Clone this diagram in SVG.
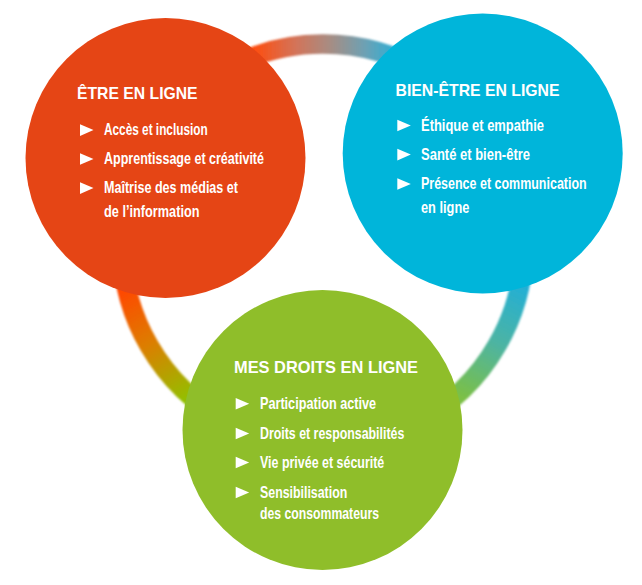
<svg xmlns="http://www.w3.org/2000/svg" width="642" height="585" viewBox="0 0 642 585">
<style>
.title{font-family:"Liberation Sans",Arial,sans-serif;font-weight:bold;font-size:17px;fill:#fff}
.item{font-family:"Liberation Sans",Arial,sans-serif;font-weight:bold;font-size:17px;fill:#fff}
.bul{fill:#fff}
</style>
<defs>
<polygon id="tri" points="0,-11 13.5,-5.2 0,0.6"/>
<linearGradient id="gTop" gradientUnits="userSpaceOnUse" x1="252" y1="0" x2="395" y2="0">
<stop offset="0" stop-color="#ff4c0c"/>
<stop offset="0.3" stop-color="#d47358"/>
<stop offset="0.55" stop-color="#a68d84"/>
<stop offset="0.8" stop-color="#6aa2b6"/>
<stop offset="1" stop-color="#2eaed4"/>
</linearGradient>
<linearGradient id="gLeft" gradientUnits="userSpaceOnUse" x1="120" y1="292" x2="185" y2="405">
<stop offset="0" stop-color="#ff4800"/>
<stop offset="0.45" stop-color="#dd7d00"/>
<stop offset="1" stop-color="#8fc300"/>
</linearGradient>
<linearGradient id="gRight" gradientUnits="userSpaceOnUse" x1="525" y1="285" x2="465" y2="400">
<stop offset="0" stop-color="#22afd6"/>
<stop offset="0.5" stop-color="#4db4a2"/>
<stop offset="1" stop-color="#7cc044"/>
</linearGradient>
<filter id="soft" x="-10%" y="-10%" width="120%" height="120%">
<feGaussianBlur stdDeviation="0.8"/>
</filter>
</defs>
<rect width="642" height="585" fill="#fff"/>
<g id="connectors" fill="none" stroke-width="19.5" filter="url(#soft)">
<path d="M149 144.5 A201 201 0 0 1 497 144.5" stroke="url(#gTop)"/>
<path d="M149 144.5 A201 201 0 0 0 323 446" stroke="url(#gLeft)"/>
<path d="M497 144.5 A201 201 0 0 1 323 446" stroke="url(#gRight)"/>
</g>
<g id="node-etre">
<circle cx="165.5" cy="158" r="140" fill="#e54515"/>
<text class="title" x="77" y="99.3" textLength="120.6" lengthAdjust="spacingAndGlyphs">ÊTRE EN LIGNE</text>
<use href="#tri" class="bul" x="80" y="135.3"/>
<text class="item" x="104" y="135.3" textLength="103.7" lengthAdjust="spacingAndGlyphs">Accès et inclusion</text>
<use href="#tri" class="bul" x="80" y="164.2"/>
<text class="item" x="104" y="164.2" textLength="160" lengthAdjust="spacingAndGlyphs">Apprentissage et créativité</text>
<use href="#tri" class="bul" x="80" y="193.3"/>
<text class="item" x="104" y="193.3" textLength="134" lengthAdjust="spacingAndGlyphs">Maîtrise des médias et</text>
<text class="item" x="104" y="217.3" textLength="95.5" lengthAdjust="spacingAndGlyphs">de l’information</text>
</g>
<g id="node-bienetre">
<circle cx="482.7" cy="153.5" r="140" fill="#00b5da"/>
<text class="title" x="395.5" y="95.5" textLength="164" lengthAdjust="spacingAndGlyphs">BIEN-ÊTRE EN LIGNE</text>
<use href="#tri" class="bul" x="397.3" y="130.7"/>
<text class="item" x="421" y="130.7" textLength="123" lengthAdjust="spacingAndGlyphs">Éthique et empathie</text>
<use href="#tri" class="bul" x="397.3" y="159.8"/>
<text class="item" x="421" y="159.8" textLength="109" lengthAdjust="spacingAndGlyphs">Santé et bien-être</text>
<use href="#tri" class="bul" x="397.3" y="189.2"/>
<text class="item" x="421" y="189.2" textLength="165.7" lengthAdjust="spacingAndGlyphs">Présence et communication</text>
<text class="item" x="421" y="212.7" textLength="48.3" lengthAdjust="spacingAndGlyphs">en ligne</text>
</g>
<g id="node-droits">
<circle cx="322.5" cy="430" r="140" fill="#8fbe2a"/>
<text class="title" x="234" y="373.3" textLength="184" lengthAdjust="spacingAndGlyphs">MES DROITS EN LIGNE</text>
<use href="#tri" class="bul" x="235.7" y="409"/>
<text class="item" x="260" y="409" textLength="116" lengthAdjust="spacingAndGlyphs">Participation active</text>
<use href="#tri" class="bul" x="235.7" y="438.7"/>
<text class="item" x="260" y="438.7" textLength="144.3" lengthAdjust="spacingAndGlyphs">Droits et responsabilités</text>
<use href="#tri" class="bul" x="235.7" y="467.7"/>
<text class="item" x="260" y="467.7" textLength="124.3" lengthAdjust="spacingAndGlyphs">Vie privée et sécurité</text>
<use href="#tri" class="bul" x="235.7" y="497.7"/>
<text class="item" x="260" y="497.7" textLength="87.3" lengthAdjust="spacingAndGlyphs">Sensibilisation</text>
<text class="item" x="260" y="519.3" textLength="119" lengthAdjust="spacingAndGlyphs">des consommateurs</text>
</g>
</svg>
